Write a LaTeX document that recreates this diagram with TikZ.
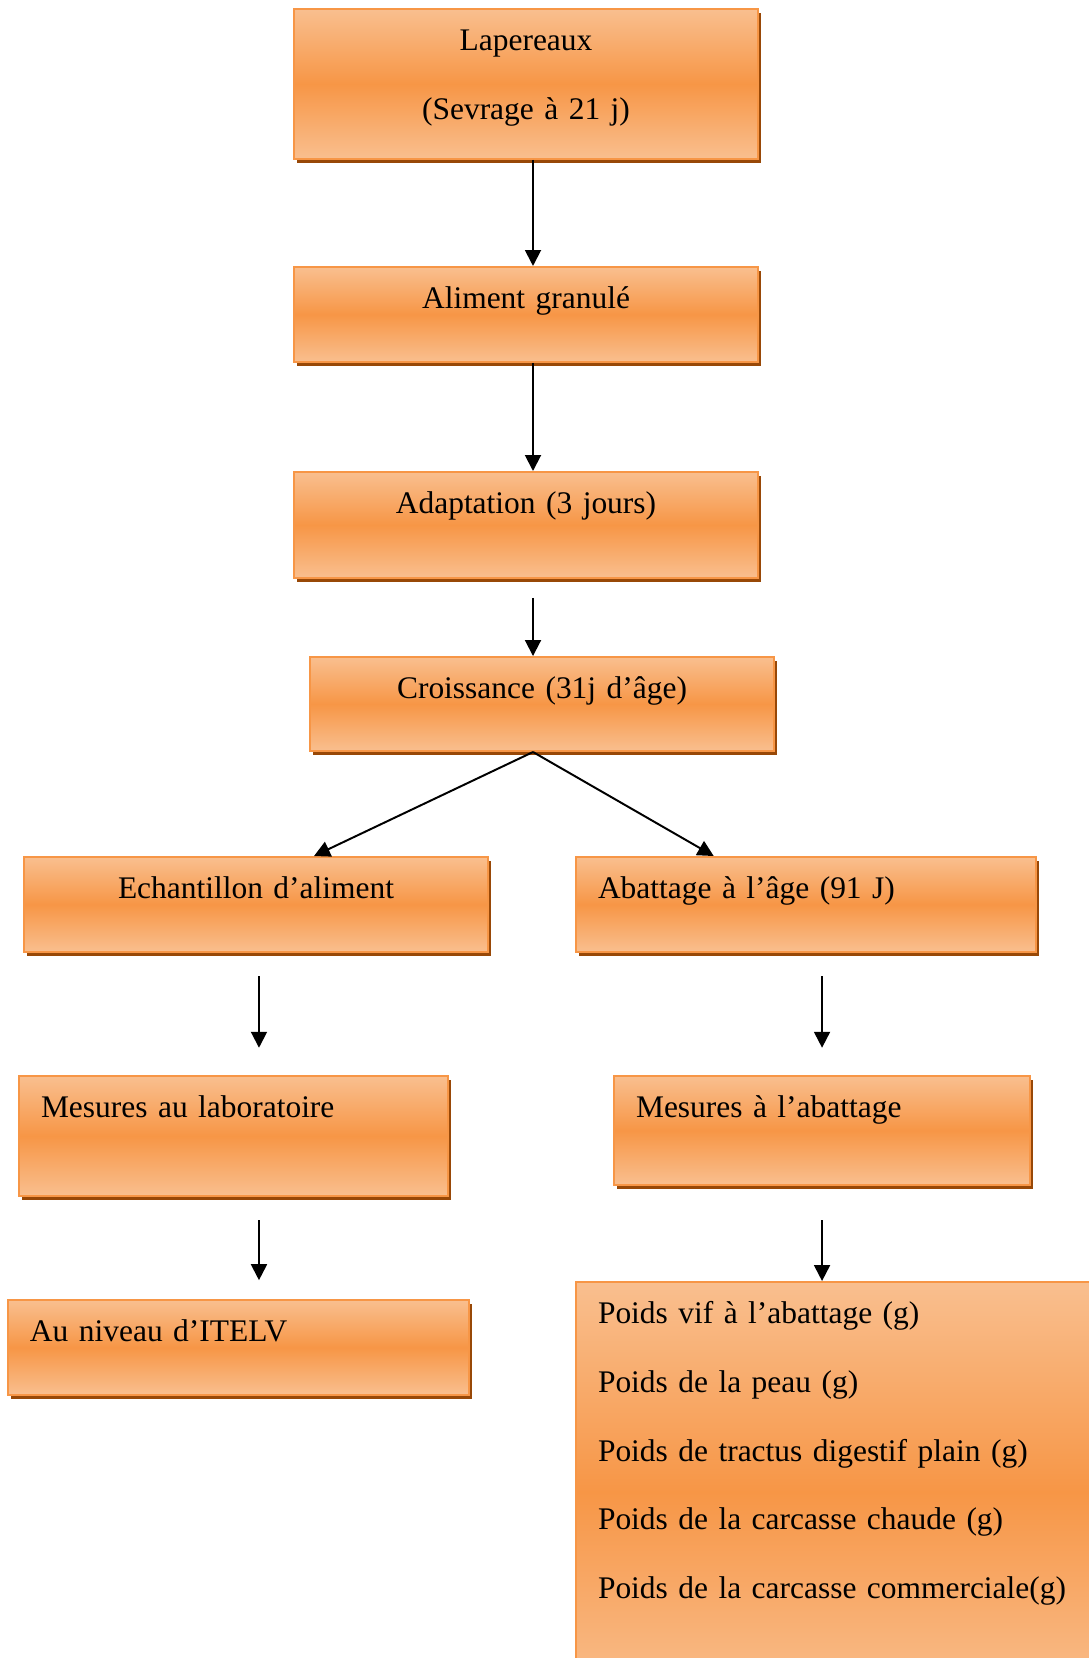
\documentclass[tikz,border=0pt]{standalone}
\usepackage{fontspec}
\setmainfont{Liberation Serif}
\usetikzlibrary{arrows.meta,shadows}
\definecolor{orlight}{HTML}{F9BF8F}
\definecolor{ormid}{HTML}{F79646}
\definecolor{orshade}{HTML}{984807}

\begin{document}
\begin{tikzpicture}[
    stage/.style={draw=ormid, line width=0.8pt,
                  top color=orlight, bottom color=orlight, middle color=ormid,
                  drop shadow={shadow xshift=1.3pt, shadow yshift=-1.6pt,
                               fill=orshade, opacity=1},
                  anchor=north west, inner xsep=0.315cm, inner ysep=0pt,
                  text height=0.594cm, font=\fontsize{12.8}{28}\selectfont},
    ctr/.style={align=center},
    lft/.style={align=left},
    flow/.style={-{Triangle[width=6.5pt,length=6.5pt]}, line width=0.8pt},
]
\useasboundingbox (0,0) rectangle (15.565,-23.719);

% ---- columns of the arrows ----
\coordinate (axis) at (7.625,0);
\coordinate (colL) at (3.705,0);
\coordinate (colR) at (11.76,0);

% ---- trunk ----
\node[stage, ctr, text width=6.008cm, text depth=1.552cm] (lap) at (4.192,-0.114)
    {Lapereaux\\(Sevrage à 21 j)};
\node[stage, ctr, text width=6.008cm, text depth=0.765cm] (ali) at (4.192,-3.805)
    {Aliment granulé};
\node[stage, ctr, text width=6.008cm, text depth=0.922cm] (ada) at (4.192,-6.738)
    {Adaptation (3 jours)};
\node[stage, ctr, text width=6.008cm, text depth=0.751cm] (cro) at (4.421,-9.385)
    {Croissance (31j d’âge)};

% ---- left branch ----
\node[stage, ctr, text width=6.008cm, text depth=0.765cm] (ech) at (0.329,-12.246)
    {Echantillon d’aliment};
\node[stage, lft, text width=5.507cm, text depth=1.123cm] (mlab) at (0.258,-15.379)
    {Mesures au laboratoire};
\node[stage, lft, text width=5.965cm, text depth=0.765cm] (itelv) at (0.100,-18.584)
    {Au niveau d’ITELV};

% ---- right branch ----
\node[stage, lft, text width=5.951cm, text depth=0.765cm] (aba) at (8.226,-12.246)
    {Abattage à l’âge (91 J)};
\node[stage, lft, text width=5.321cm, text depth=0.965cm] (mab) at (8.770,-15.379)
    {Mesures à l’abattage};
\node[stage, lft, text width=6.881cm, text depth=5.406cm] (poids) at (8.226,-18.326)
    {Poids vif à l’abattage (g)\\
     Poids de la peau (g)\\
     Poids de tractus digestif plain (g)\\
     Poids de la carcasse chaude (g)\\
     Poids de la carcasse commerciale(g)};

% ---- arrows ----
\draw[flow] (lap.south -| axis) -- (ali.north -| axis);
\draw[flow] (ali.south -| axis) -- (ada.north -| axis);
\draw[flow, shorten <=0.27cm] (ada.south -| axis) -- (cro.north -| axis);
\draw[flow] (cro.south -| axis) -- ([xshift=0.83cm]ech.north);
\draw[flow] (cro.south -| axis) -- ([xshift=-1.32cm]aba.north);
\draw[flow, shorten <=0.33cm, shorten >=0.39cm] (ech.south -| colL) -- (mlab.north -| colL);
\draw[flow, shorten <=0.33cm, shorten >=0.27cm] (mlab.south -| colL) -- (itelv.north -| colL);
\draw[flow, shorten <=0.33cm, shorten >=0.39cm] (aba.south -| colR) -- (mab.north -| colR);
\draw[flow, shorten <=0.49cm] (mab.south -| colR) -- (poids.north -| colR);
\end{tikzpicture}
\end{document}
